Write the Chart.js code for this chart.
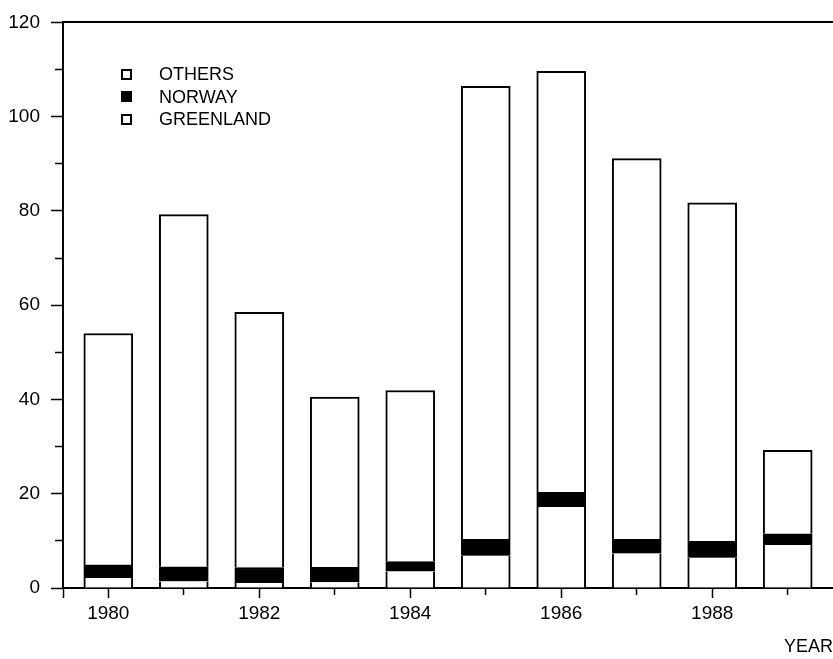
<!DOCTYPE html>
<html>
<head>
<meta charset="utf-8">
<title>Catch by country 1980-1989</title>
<script src="https://cdn.jsdelivr.net/npm/chart.js@4.4.1/dist/chart.umd.min.js"></script>
<style>
  html, body { margin: 0; padding: 0; background: #fff; }
  #wrap { position: relative; width: 833px; height: 659px; }
  #legend { position: absolute; left: 121px; top: 63px; font: 18px 'Liberation Sans', Arial, sans-serif; color: #000; }
  #legend .row { height: 22.5px; line-height: 22px; display: flex; align-items: center; }
  #legend .box { width: 11px; height: 11px; border: 2px solid #000; box-sizing: border-box; margin-right: 27px; }
</style>
</head>
<body>
<div id="wrap">
  <canvas id="chart" width="833" height="659"></canvas>
  <div id="legend"></div>
</div>
<script>
// values
const years = [1980, 1981, 1982, 1983, 1984, 1985, 1986, 1987, 1988, 1989];
const greenland = [2.1, 1.4, 1.05, 1.2, 3.5, 6.85, 17.2, 7.3, 6.4, 9.1];
const norway = [2.8, 3.1, 3.3, 3.2, 2.1, 3.5, 3.1, 3.0, 3.5, 2.4];
const others = [49.1, 74.7, 54.15, 36.1, 36.3, 96.1, 89.3, 80.8, 71.8, 17.7];
const labeledYears = [1980, 1982, 1984, 1986, 1988];

const X_MIN = 1979.4, X_MAX = 1989.6;

Chart.defaults.font.family = "'Liberation Sans', Arial, sans-serif";
Chart.defaults.color = '#000';

function series(label, values, fill, border) {
  return {
    label,
    data: years.map((y, i) => ({ x: y, y: values[i] })),
    backgroundColor: fill,
    borderColor: '#000',
    borderWidth: border,
    borderSkipped: 'start',
    barThickness: 49,
    stack: 'all',
  };
}

const isOddYear = v => Number.isInteger(v) && v % 2 !== 0;

const chart = new Chart(document.getElementById('chart'), {
  type: 'bar',
  data: {
    datasets: [
      series('GREENLAND', greenland, '#fff', { left: 2, right: 2, top: 0, bottom: 0 }),
      series('NORWAY', norway, '#000', 2),
      series('OTHERS', others, '#fff', { left: 2, right: 2, top: 2, bottom: 0 }),
    ],
  },
  options: {
    responsive: false,
    animation: false,
    layout: { padding: 0 },
    plugins: { legend: { display: false }, tooltip: { enabled: false } },
    scales: {
      x: {
        type: 'linear',
        min: X_MIN,
        max: X_MAX,
        offset: false,
        // one tick per year, plus one at the left edge (axis runs on a bit below)
        afterBuildTicks: s => { s.ticks = [X_MIN, ...years].map(v => ({ value: v })); },
        grid: {
          offset: false,
          drawOnChartArea: false,
          tickLength: 10,
          tickWidth: 1.5,
          tickColor: '#000',
          tickBorderDash: c => (c.tick && isOddYear(c.tick.value)) ? [6, 20] : [],
        },
        border: { display: true, color: '#000', width: 2 },
        ticks: {
          autoSkip: false,
          maxRotation: 0,
          padding: 4,
          font: { size: 19 },
          callback: v => labeledYears.includes(v) ? String(v) : '',
        },
        title: {
          display: true,
          text: 'YEAR',
          align: 'end',
          font: { size: 18 },
          padding: { top: 0, bottom: 1 },
        },
        afterFit: s => { s.height = 71; s.paddingLeft = 0; s.paddingRight = 0; },
      },
      x2: {
        type: 'linear',
        position: 'top',
        min: X_MIN,
        max: X_MAX,
        grid: { display: false },
        ticks: { display: false },
        border: { display: true, color: '#000', width: 2 },
        afterFit: s => { s.height = 15; s.paddingLeft = 0; s.paddingRight = 0; },
      },
      y: {
        min: 0,
        max: 120,
        stacked: true,
        grid: {
          drawOnChartArea: false,
          tickLength: 12,
          tickWidth: 1.5,
          tickColor: '#000',
          tickBorderDash: c => (c.tick && c.tick.value % 20) ? [8, 4] : [],
          tickBorderDashOffset: c => (c.tick && c.tick.value % 20) ? 8 : 0,
        },
        border: { color: '#000', width: 2 },
        ticks: {
          stepSize: 10,
          padding: 11,
          font: { size: 19 },
          callback: v => v % 20 === 0 ? String(v) : '',
        },
        afterFit: s => { s.width = 63; },
      },
    },
  },
});

// legend inside the plot, top entry = top of the stack
const legendEl = document.getElementById('legend');
chart.data.datasets.slice().reverse().forEach(ds => {
  const row = document.createElement('div');
  row.className = 'row';
  const box = document.createElement('span');
  box.className = 'box';
  box.style.background = ds.backgroundColor;
  const txt = document.createElement('span');
  txt.textContent = ds.label;
  row.append(box, txt);
  legendEl.append(row);
});
</script>
</body>
</html>
